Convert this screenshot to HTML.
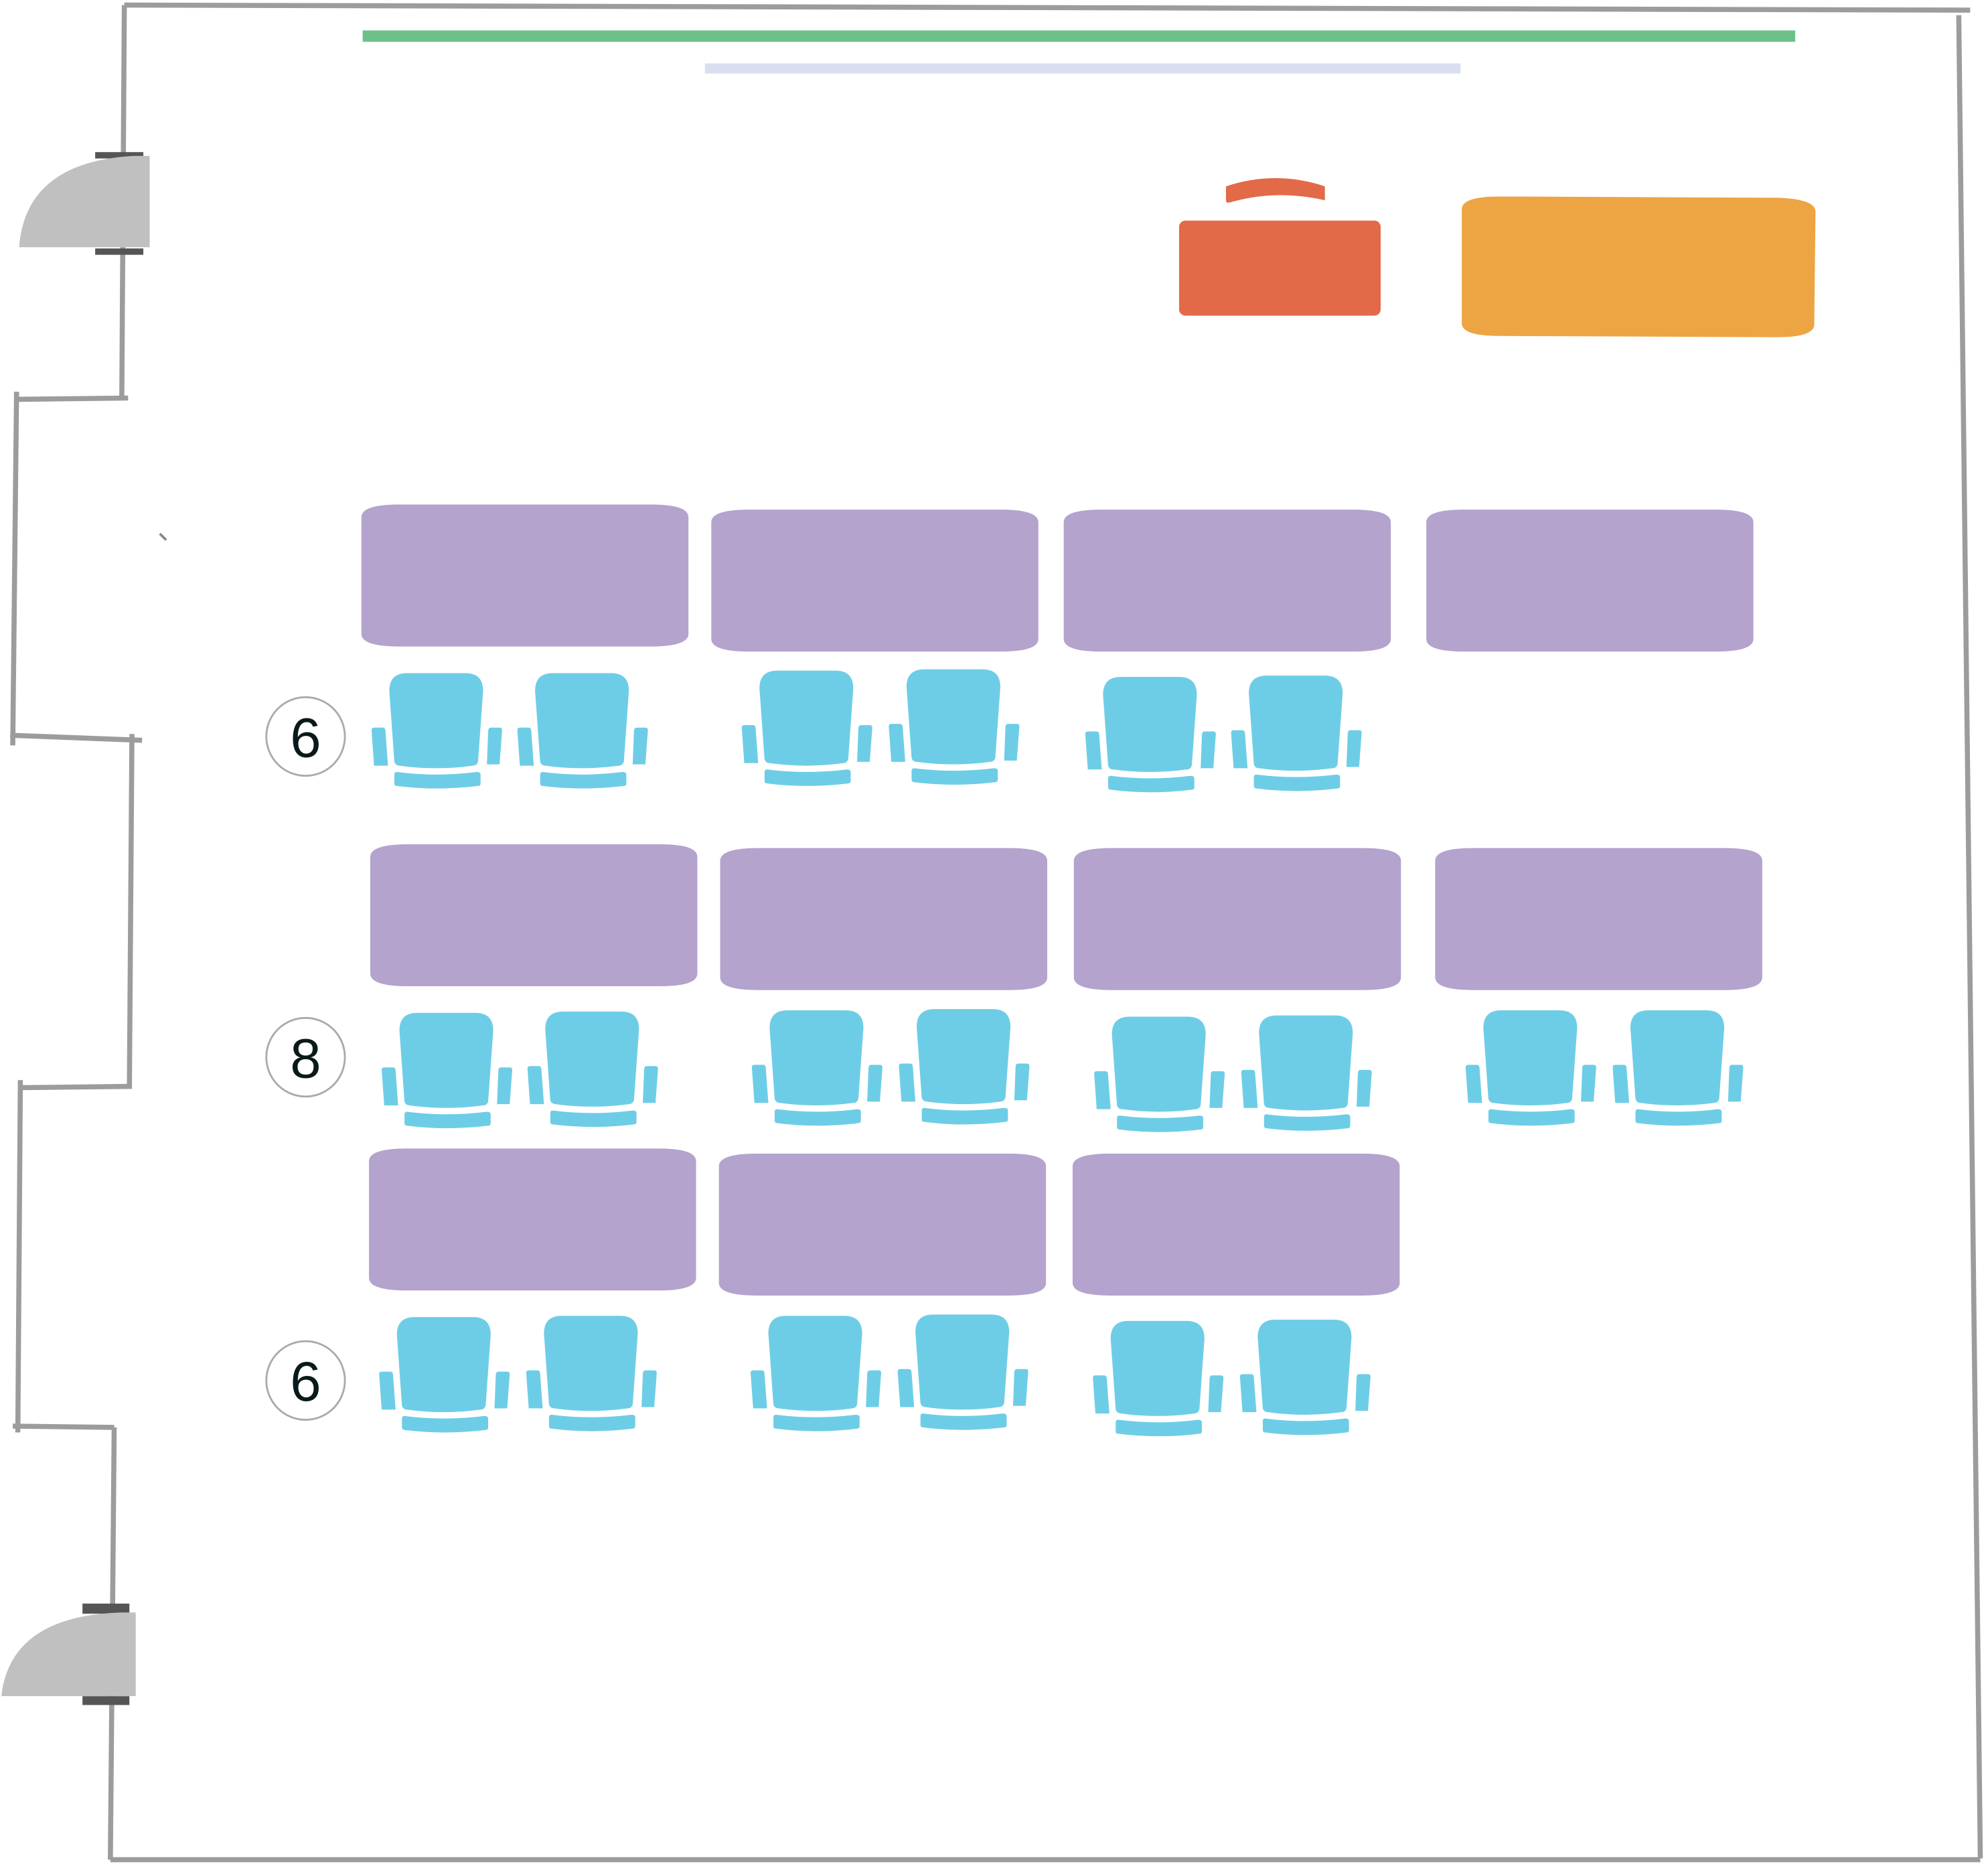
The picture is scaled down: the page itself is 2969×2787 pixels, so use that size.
<!DOCTYPE html>
<html><head><meta charset="utf-8"><style>html,body{margin:0;padding:0;background:#fff}svg{display:block}</style></head>
<body>
<svg width="2969" height="2787" viewBox="0 0 1568 1472" xmlns="http://www.w3.org/2000/svg">
<defs>
<g id="ch" fill="#6ecde6">
<path d="M0,14 Q0,0 14,0 L60,0 Q74,0 74,14 L70,70 Q69,73 66,73 Q37,77 8,73 Q5,73 4,70 Z"/>
<path d="M-14,45 Q-14,43 -12,43 L-5,43 Q-3,43 -3,46 L-1,73 L-12,73 Z"/>
<path d="M78,46 Q78,43 80,43 L87,43 Q89,43 89,45 L87,72 L77,72 Z"/>
<path d="M4,80 Q4,78 6,78 Q37,82 69,78 Q72,78 72,80 L72,87 Q72,89 70,89 Q37,93 6,89 Q4,89 4,87 Z"/>
</g>
<g id="tb" fill="#b3a3cd"><path d="M0,10 Q0,0 30,0 L228,0 Q258,0 258,10 L258,102 Q258,112 228,112 L30,112 Q0,112 0,102 Z"/></g>
</defs>
<g stroke="#9c9c9c" stroke-width="4" fill="none">
<path d="M98,4 L1554,8"/><path d="M1545,12 L1562,1466"/><path d="M87,1467 L1562,1467"/>
<path d="M98,4 L96,315"/><path d="M13,315 L101,314"/><path d="M13,309 L10,588"/>
<path d="M8,580 L112,584"/><path d="M104,579 L102,858"/><path d="M16,858 L104,857"/>
<path d="M16,852 L14,1130"/><path d="M10,1125 L90,1126"/><path d="M90,1126 L87,1467"/>
</g>
<path d="M126,421 L131,426" stroke="#888" stroke-width="2"/>
<rect x="75" y="120" width="38" height="5" fill="#555"/><rect x="75" y="196" width="38" height="5" fill="#555"/>
<path d="M118,123 L118,195 L15,195 Q20,128 105,123 Z" fill="#c0c0c0"/>
<rect x="65" y="1265" width="37" height="8" fill="#555"/><rect x="65" y="1338" width="37" height="7" fill="#555"/>
<path d="M107,1272 L107,1338 L1,1338 Q8,1275 95,1272 Z" fill="#c0c0c0"/>
<rect x="286" y="24" width="1130" height="9" fill="#6cc18b"/>
<rect x="556" y="50" width="596" height="8" fill="#dadff0"/>
<path d="M967,147 Q1006,134 1045,147 L1045,158 Q1006,149 969,160 Q967,160 967,158 Z" fill="#e26a48"/>
<rect x="930" y="174" width="159" height="75" rx="5" fill="#e26a48"/>
<path d="M1153,165 Q1153,155 1183,155 L1402,156 Q1432,157 1432,167 L1431,256 Q1431,266 1401,266 L1182,265 Q1153,265 1153,255 Z" fill="#eda442"/>
<use href="#tb" x="285" y="398"/><use href="#tb" x="561" y="402"/><use href="#tb" x="839" y="402"/><use href="#tb" x="1125" y="402"/>
<use href="#tb" x="292" y="666"/><use href="#tb" x="568" y="669"/><use href="#tb" x="847" y="669"/><use href="#tb" x="1132" y="669"/>
<use href="#tb" x="291" y="906"/><use href="#tb" x="567" y="910"/><use href="#tb" x="846" y="910"/>
<use href="#ch" x="307" y="531"/><use href="#ch" x="422" y="531"/><use href="#ch" x="599" y="529"/><use href="#ch" x="715" y="528"/><use href="#ch" x="870" y="534"/><use href="#ch" x="985" y="533"/>
<use href="#ch" x="315" y="799"/><use href="#ch" x="430" y="798"/><use href="#ch" x="607" y="797"/><use href="#ch" x="723" y="796"/><use href="#ch" x="877" y="802"/><use href="#ch" x="993" y="801"/><use href="#ch" x="1170" y="797"/><use href="#ch" x="1286" y="797"/>
<use href="#ch" x="313" y="1039"/><use href="#ch" x="429" y="1038"/><use href="#ch" x="606" y="1038"/><use href="#ch" x="722" y="1037"/><use href="#ch" x="876" y="1042"/><use href="#ch" x="992" y="1041"/>
<g fill="none" stroke="#aaa" stroke-width="1.5"><circle cx="241" cy="581" r="31"/><circle cx="241" cy="834" r="31"/><circle cx="241" cy="1089" r="31"/></g>
<g font-family="Liberation Sans, sans-serif" font-size="44" fill="#0a1a1a" text-anchor="middle">
<text x="241" y="597">6</text><text x="241" y="850">8</text><text x="241" y="1105">6</text></g>
</svg>
</body></html>
